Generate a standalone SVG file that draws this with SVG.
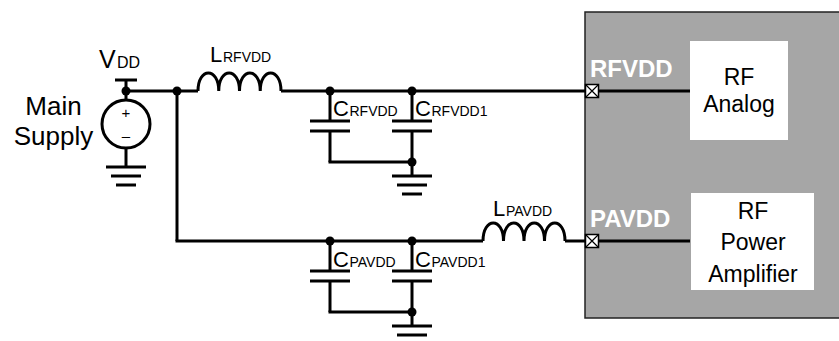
<svg xmlns="http://www.w3.org/2000/svg" width="839" height="341" viewBox="0 0 839 341">
<style>
.w{stroke:#000;stroke-width:3;fill:none;stroke-linecap:butt}
.dot{fill:#000}
.t{font-family:"Liberation Sans",Arial,sans-serif;fill:#000}
.pin{fill:#fff;stroke:#000;stroke-width:1.5}
.pinx{stroke:#000;stroke-width:1.2}
.lbl{font-family:"Liberation Sans",Arial,sans-serif;font-weight:bold;font-size:24px;fill:#fff}
.blk{font-family:"Liberation Sans",Arial,sans-serif;font-size:23px;fill:#000;text-anchor:middle}
</style>
<g id="chip">
<rect x="585" y="12" width="270" height="306" fill="#a6a6a6" stroke="#222" stroke-width="1.5"/>
</g>
<g id="rf-analog">
<rect x="690" y="41" width="98" height="99" fill="#fff"/>
<text class="blk" x="739" y="85">RF</text>
<text class="blk" x="739" y="112">Analog</text>
</g>
<g id="rf-pa">
<rect x="691" y="193" width="123" height="97" fill="#fff"/>
<text class="blk" x="753" y="219">RF</text>
<text class="blk" x="753" y="250">Power</text>
<text class="blk" x="753" y="282">Amplifier</text>
</g>
<g id="connectors">
<line class="w" x1="115" y1="80" x2="137" y2="80"/>
<line class="w" x1="126" y1="80" x2="126" y2="100"/>
<line class="w" x1="126" y1="148" x2="126" y2="167"/>
<line class="w" x1="126" y1="91" x2="198" y2="91"/>
<path class="w" d="M198,91 c0,-24 20.75,-24 20.75,0 c0,-24 20.75,-24 20.75,0 c0,-24 20.75,-24 20.75,0 c0,-24 20.75,-24 20.75,0"/>
<line class="w" x1="281" y1="91" x2="585" y2="91"/>
<line class="w" x1="599" y1="91" x2="690" y2="91"/>
<line class="w" x1="330" y1="91" x2="330" y2="121"/>
<line class="w" x1="310" y1="121" x2="350" y2="121"/>
<line class="w" x1="310" y1="131" x2="350" y2="131"/>
<line class="w" x1="330" y1="131" x2="330" y2="162"/>
<line class="w" x1="412" y1="91" x2="412" y2="121"/>
<line class="w" x1="392" y1="121" x2="432" y2="121"/>
<line class="w" x1="392" y1="131" x2="432" y2="131"/>
<line class="w" x1="412" y1="131" x2="412" y2="176"/>
<line class="w" x1="328.5" y1="162" x2="412" y2="162"/>
<line class="w" x1="177" y1="91" x2="177" y2="241"/>
<line class="w" x1="175.5" y1="241" x2="483" y2="241"/>
<path class="w" d="M483,241 c0,-24 20.5,-24 20.5,0 c0,-24 20.5,-24 20.5,0 c0,-24 20.5,-24 20.5,0 c0,-24 20.5,-24 20.5,0"/>
<line class="w" x1="565" y1="241" x2="585" y2="241"/>
<line class="w" x1="599" y1="241" x2="690" y2="241"/>
<line class="w" x1="330" y1="241" x2="330" y2="271"/>
<line class="w" x1="310" y1="271" x2="350" y2="271"/>
<line class="w" x1="310" y1="281" x2="350" y2="281"/>
<line class="w" x1="330" y1="281" x2="330" y2="312"/>
<line class="w" x1="412" y1="241" x2="412" y2="271"/>
<line class="w" x1="392" y1="271" x2="432" y2="271"/>
<line class="w" x1="392" y1="281" x2="432" y2="281"/>
<line class="w" x1="412" y1="281" x2="412" y2="326"/>
<line class="w" x1="328.5" y1="312" x2="412" y2="312"/>
<circle class="dot" cx="126" cy="91" r="4.5"/>
<circle class="dot" cx="177" cy="91" r="4.5"/>
<circle class="dot" cx="330" cy="91" r="4.5"/>
<circle class="dot" cx="412" cy="91" r="4.5"/>
<circle class="dot" cx="412" cy="162" r="4.5"/>
<circle class="dot" cx="330" cy="241" r="4.5"/>
<circle class="dot" cx="412" cy="241" r="4.5"/>
<circle class="dot" cx="412" cy="312" r="4.5"/>
</g>
<g id="main-supply">
<circle cx="126" cy="124" r="24" fill="#fff" stroke="#000" stroke-width="3"/>
<text class="t" x="126" y="118" font-size="15" text-anchor="middle">+</text>
<text class="t" x="126" y="141" font-size="15" text-anchor="middle">–</text>
<text class="t" x="99" y="68" font-size="25">V</text>
<text class="t" x="117" y="68" font-size="16">DD</text>
<text class="t" x="53.5" y="115" font-size="26" text-anchor="middle">Main</text>
<text class="t" x="53.5" y="145" font-size="26" text-anchor="middle">Supply</text>
</g>
<g id="ground-vdd">
<line class="w" x1="106" y1="167" x2="146" y2="167"/>
<line class="w" x1="111" y1="176" x2="141" y2="176"/>
<line class="w" x1="116" y1="185" x2="136" y2="185"/>
</g>
<g id="ground-rfvdd">
<line class="w" x1="392" y1="176" x2="432" y2="176"/>
<line class="w" x1="397" y1="185" x2="427" y2="185"/>
<line class="w" x1="402" y1="194" x2="422" y2="194"/>
</g>
<g id="ground-pavdd">
<line class="w" x1="392" y1="326" x2="432" y2="326"/>
<line class="w" x1="397" y1="335" x2="427" y2="335"/>
</g>
<g id="L-rfvdd">
<text class="t" x="210" y="62" font-size="22">L</text>
<text class="t" x="223" y="62" font-size="14">RFVDD</text>
</g>
<g id="C-rfvdd">
<text class="t" x="333" y="116" font-size="22">C</text>
<text class="t" x="349.5" y="116" font-size="14">RFVDD</text>
</g>
<g id="C-rfvdd1">
<text class="t" x="415" y="116" font-size="22">C</text>
<text class="t" x="431.5" y="116" font-size="14">RFVDD1</text>
</g>
<g id="L-pavdd">
<text class="t" x="493" y="216" font-size="22">L</text>
<text class="t" x="506" y="216" font-size="14">PAVDD</text>
</g>
<g id="C-pavdd">
<text class="t" x="333" y="267" font-size="22">C</text>
<text class="t" x="349.5" y="267" font-size="14">PAVDD</text>
</g>
<g id="C-pavdd1">
<text class="t" x="415" y="267" font-size="22">C</text>
<text class="t" x="431.5" y="267" font-size="14">PAVDD1</text>
</g>
<g id="pin-rfvdd">
<rect class="pin" x="585.5" y="84.5" width="13" height="13"/>
<path class="pinx" d="M585.5,84.5 L598.5,97.5 M598.5,84.5 L585.5,97.5"/>
<text class="lbl" x="590" y="77">RFVDD</text>
</g>
<g id="pin-pavdd">
<rect class="pin" x="585.5" y="234.5" width="13" height="13"/>
<path class="pinx" d="M585.5,234.5 L598.5,247.5 M598.5,234.5 L585.5,247.5"/>
<text class="lbl" x="590" y="227">PAVDD</text>
</g>
</svg>
